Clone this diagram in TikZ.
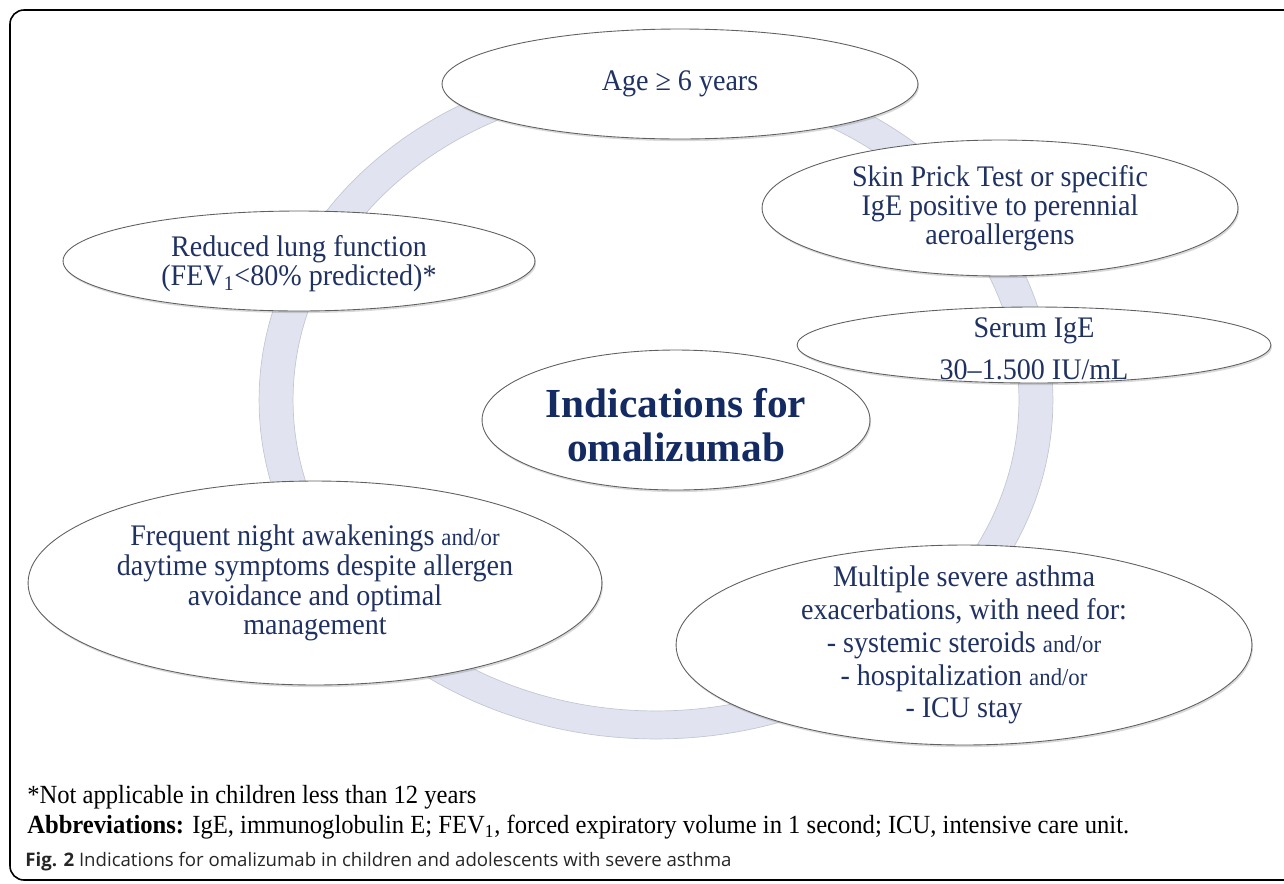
\documentclass[tikz,border=0pt]{standalone}
\usepackage{fontspec}
\setmainfont{Liberation Serif}
\newfontfamily\diagfont{Liberation Serif}[FakeStretch=0.94]
\newfontfamily\hubfont{Liberation Serif}
\newfontfamily\capfont{Open Sans}
\usepackage{xcolor}
\definecolor{navy}{RGB}{32,50,98}
\definecolor{hubnavy}{RGB}{20,42,98}
\definecolor{ringfill}{RGB}{225,228,240}
\definecolor{ringedge}{RGB}{195,199,212}
\usepackage{tikz}
\usetikzlibrary{shapes.geometric}
\usetikzlibrary{shadows}
\newcommand{\andor}{{\fontsize{13.8}{16}\selectfont and/or}}

\begin{document}
\begin{tikzpicture}[x=0.02cm,y=-0.02cm,
  bubble/.style={shape=ellipse,draw=gray!75!black,line width=0.5pt,fill=white,inner sep=0pt,
    drop shadow={shadow xshift=0.6pt,shadow yshift=-1.2pt,opacity=0.3}},
  bubbletext/.style={align=center,text=navy,inner sep=0pt,font=\diagfont\fontsize{17}{16.4}\selectfont},
  notetext/.style={anchor=west,inner sep=0pt,font=\diagfont\fontsize{14.9}{17}\selectfont}]
\useasboundingbox (0,0) rectangle (1284,883);
\clip (0,0) rectangle (1284,883);
\draw[line width=0.9pt,rounded corners=8pt] (10,10) rectangle (1310,880);
\fill[ringfill,draw=ringedge,line width=0.4pt,even odd rule] (656,400) ellipse [x radius=7.94cm,y radius=6.78cm]
  (656,400) ellipse [x radius=7.26cm,y radius=6.22cm];

\node[bubble,minimum width=9.52cm,minimum height=2.2cm] (age) at (680,84) {};
\node[bubbletext] (agetxt) at (age) {Age ≥ 6 years};
\node[bubble,minimum width=9.52cm,minimum height=2.72cm] (skin) at (1000,208) {};
\node[bubbletext] (skintxt) at (skin) {Skin Prick Test or specific\\IgE positive to perennial\\aeroallergens};
\node[bubble,minimum width=9.48cm,minimum height=1.52cm] (serum) at (1034,345) {};
\node[bubbletext,yshift=-0.08cm,font=\diagfont\fontsize{17}{23.8}\selectfont] (serumtxt) at (serum) {Serum IgE\\30–1.500 IU/mL};
\node[bubble,minimum width=9.44cm,minimum height=2cm] (lung) at (299,261) {};
\node[bubbletext,yshift=-0.06cm] (lungtxt) at (lung) {Reduced lung function\\(FEV\textsubscript{1}<80\% predicted)*};
\node[bubble,minimum width=7.76cm,minimum height=2.8cm] (hub) at (676,420) {};
\node[align=center,text=hubnavy,inner sep=0pt,font=\hubfont\bfseries\fontsize{23.5}{25}\selectfont,yshift=-0.1cm] (hubtxt) at (hub) {Indications for\\omalizumab};
\node[bubble,minimum width=11.48cm,minimum height=4.08cm] (night) at (315,583) {};
\node[bubbletext,font=\diagfont\fontsize{17}{17}\selectfont] (nighttxt) at (night) {Frequent night awakenings \andor\\daytime symptoms despite allergen\\avoidance and optimal\\management};
\node[bubble,minimum width=11.52cm,minimum height=4cm] (exac) at (964,645) {};
\node[bubbletext,font=\diagfont\fontsize{17}{18.7}\selectfont] (exactxt) at (exac) {Multiple severe asthma\\exacerbations, with need for:\\- systemic steroids \andor\\- hospitalization \andor\\- ICU stay};

\node[notetext] (note) at (27,797) {*Not applicable in children less than 12 years};
\node[notetext] (abbr) at (27,827) {\textbf{Abbreviations:} IgE, immunoglobulin E; FEV\textsubscript{1}, forced expiratory volume in 1 second; ICU, intensive care unit.};
\node[anchor=west,inner sep=0pt,text=black!85,font=\capfont\fontsize{10.6}{12}\selectfont] (caption) at (25,862) {\textbf{Fig. 2} Indications for omalizumab in children and adolescents with severe asthma};
\end{tikzpicture}
\end{document}
